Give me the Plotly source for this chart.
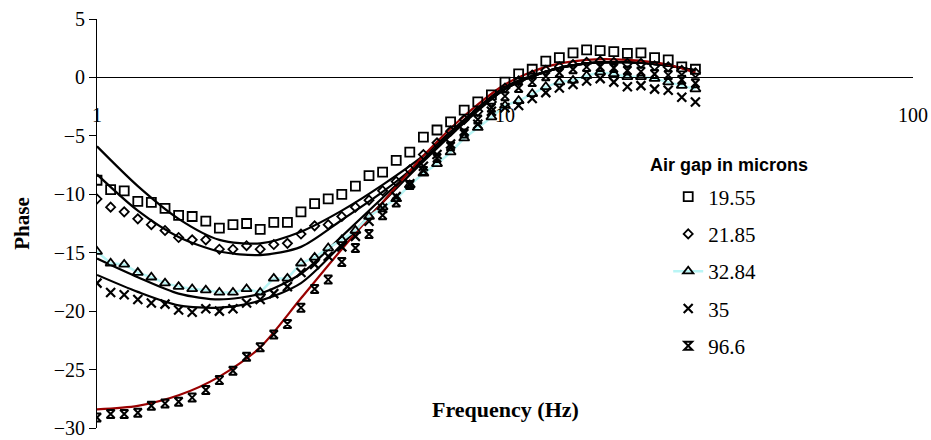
import plotly.graph_objects as go

# ---------------- data ----------------
freq = [1.000, 1.080, 1.166, 1.259, 1.359, 1.468, 1.585, 1.711, 1.848, 1.995,
        2.154, 2.326, 2.512, 2.712, 2.929, 3.162, 3.415, 3.687, 3.981, 4.299,
        4.642, 5.012, 5.412, 5.843, 6.310, 6.813, 7.356, 7.943, 8.577, 9.261,
        10.00, 10.80, 11.66, 12.59, 13.59, 14.68, 15.85, 17.11, 18.48, 19.95,
        21.54, 23.26, 25.12, 27.12, 29.29]

gap_19_55 = [-8.8, -9.6, -9.7, -10.6, -10.7, -11.2, -11.8, -11.9, -12.3, -12.9,
             -12.6, -12.5, -13.0, -12.4, -12.4, -11.5, -10.8, -10.4, -10.0, -9.3,
             -8.4, -8.1, -7.1, -6.4, -5.1, -4.5, -3.8, -2.8, -2.1, -1.5,
             -0.4, 0.3, 0.7, 1.4, 1.7, 2.1, 2.35, 2.3, 2.2, 2.05,
             2.1, 1.7, 1.5, 0.9, 0.7]

gap_21_85 = [-10.4, -11.1, -11.5, -12.1, -12.6, -13.1, -13.7, -13.9, -13.9, -14.7,
             -14.7, -14.4, -14.7, -14.3, -14.2, -13.4, -12.7, -12.6, -11.9, -11.1,
             -10.5, -9.7, -8.9, -7.9, -6.6, -5.6, -4.6, -3.6, -2.9, -2.1,
             -0.9, -0.3, 0.2, 0.6, 0.9, 1.1, 1.3, 1.4, 1.3, 1.2,
             1.2, 1.0, 0.9, 0.6, 0.4]

gap_32_84 = [-14.9, -15.9, -16.0, -16.7, -17.1, -17.6, -17.9, -18.1, -18.2, -18.4,
             -18.4, -18.1, -18.4, -17.2, -17.2, -15.9, -15.4, -14.6, -13.9, -13.1,
             -11.9, -11.1, -10.4, -9.2, -8.2, -7.4, -6.4, -5.2, -4.3, -3.4,
             -2.4, -2.0, -1.4, -0.8, -0.4, -0.25, 0.15, 0.45, 0.3, 0.05,
             0.05, -0.1, -0.4, -0.7, -1.0]

gap_35 = [-17.6, -18.4, -18.6, -19.0, -19.3, -19.4, -19.9, -20.1, -19.8, -20.0,
          -19.8, -19.3, -19.0, -18.5, -17.9, -16.7, -16.0, -15.3, -14.5, -13.6,
          -12.3, -11.2, -10.2, -9.1, -7.6, -6.6, -5.7, -4.6, -4.0, -2.9,
          -2.6, -2.4, -1.8, -1.3, -0.9, -0.6, -0.3, -0.1, -0.4, -0.8,
          -0.7, -1.0, -1.1, -1.7, -2.1]

gap_96_6 = [-29.1, -28.8, -28.8, -28.7, -28.1, -27.9, -27.75, -27.4, -26.75, -25.9,
            -25.1, -23.9, -23.1, -22.0, -21.1, -19.7, -18.1, -17.3, -15.8, -14.6,
            -13.4, -11.8, -10.7, -9.2, -8.0, -6.9, -5.9, -4.8, -3.6, -2.6,
            -1.6, -0.9, -0.4, 0.1, 0.4, 0.7, 0.9, 0.9, 0.8, 0.6,
            0.5, 0.3, 0.2, -0.2, -0.5]

# fitted model curves
fit_freq = [1.0, 1.259, 1.585, 1.995, 2.512, 3.162, 3.981, 5.012, 6.310, 7.943,
            10.0, 12.59, 15.85, 19.95, 25.12, 29.29]
fit_19_55 = [-5.9, -9.3, -12.1, -13.9, -14.2, -13.2, -11.4, -9.2, -6.7, -3.6,
             -0.8, 0.5, 1.2, 1.3, 1.0, 0.6]
fit_21_85 = [-8.3, -11.4, -13.65, -14.9, -15.2, -14.5, -12.2, -9.8, -7.0, -3.8,
             -1.0, 0.5, 1.2, 1.3, 1.0, 0.6]
fit_32_84 = [-15.5, -17.1, -18.5, -19.0, -18.5, -16.8, -13.6, -10.3, -7.0, -3.8,
             -1.0, 0.5, 1.2, 1.3, 1.0, 0.6]
fit_35 = [-16.9, -18.35, -19.5, -19.7, -19.1, -17.6, -14.3, -10.7, -7.2, -3.9,
          -1.0, 0.5, 1.2, 1.3, 1.0, 0.6]
fit_96_6 = [-28.4, -28.1, -27.2, -25.6, -23.1, -18.9, -14.7, -10.7, -6.7, -3.3,
            -0.6, 0.9, 1.5, 1.5, 1.1, 0.4]

series_names = ["19.55", "21.85", "32.84", "35", "96.6"]
y_ticks = [5, 0, -5, -10, -15, -20, -25, -30]
x_ticks = [1, 10, 100]

# ---------------- figure ----------------
fig = go.Figure()

serif = "Liberation Serif, Times New Roman, serif"

for fy, col in [(fit_19_55, "black"), (fit_21_85, "black"), (fit_32_84, "black"),
                (fit_35, "black"), (fit_96_6, "#990000")]:
    fig.add_trace(go.Scatter(x=fit_freq, y=fy, mode="lines",
                             line=dict(color=col, width=2.2, shape="spline", smoothing=0.8),
                             showlegend=False, hoverinfo="skip"))

data = [gap_19_55, gap_21_85, gap_32_84, gap_35, gap_96_6]
symbols = ["square-open", "diamond-open", "triangle-up-open", "x-thin-open", "hourglass-open"]
sizes = [9, 7, 9, 9, 8]
widths = [1.8, 1.8, 1.8, 2.2, 2.0]

for i, (yy, nm, sym) in enumerate(zip(data, series_names, symbols)):
    if nm == "32.84":
        mode = "lines+markers"
        line = dict(color="rgb(185,245,245)", width=2.5)
    else:
        mode = "markers"
        line = None
    fig.add_trace(go.Scatter(
        x=freq, y=yy, mode=mode, name=nm, line=line,
        marker=dict(symbol=sym, size=sizes[i], color="black",
                    line=dict(color="black", width=widths[i])),
        legendgroup=nm))

fig.update_layout(
    width=931, height=440,
    margin=dict(l=97, r=18, t=19, b=12),
    paper_bgcolor="white", plot_bgcolor="white",
    font=dict(family=serif, size=20, color="black"),
    showlegend=True,
    legend=dict(x=0.700, y=0.615, xanchor="left", yanchor="top",
                font=dict(family=serif, size=21, color="black"),
                tracegroupgap=7, itemwidth=30, bgcolor="rgba(0,0,0,0)"),
    xaxis=dict(type="log", range=[0, 2], anchor="free", position=30/35,
               automargin=False,
               showline=True, linecolor="black", linewidth=1,
               showgrid=False, zeroline=False, ticks="",
               tickvals=x_ticks, ticktext=[str(v) for v in x_ticks],
               tickfont=dict(family=serif, size=20, color="black"),
               ticklabelstandoff=20),
    yaxis=dict(range=[-30, 5], automargin=False,
               showline=True, linecolor="black", linewidth=1,
               showgrid=False, zeroline=False, ticks="outside", ticklen=7,
               tickcolor="black", tickvals=y_ticks,
               tickfont=dict(family=serif, size=20, color="black"),
               title=dict(text="<b>Phase</b>", standoff=18,
                          font=dict(family=serif, size=21, color="black"))),
    annotations=[
        dict(text="<b>Air gap in microns</b>", xref="paper", yref="paper",
             x=0.675, y=0.642, xanchor="left", yanchor="middle", showarrow=False,
             font=dict(family="Liberation Sans, Arial, sans-serif", size=18, color="black")),
        dict(text="<b>Frequency (Hz)</b>", xref="paper", yref="paper",
             x=0.501, y=0.046, xanchor="center", yanchor="middle", showarrow=False,
             font=dict(family=serif, size=22, color="black")),
    ],
)

fig.write_html("out.html")
